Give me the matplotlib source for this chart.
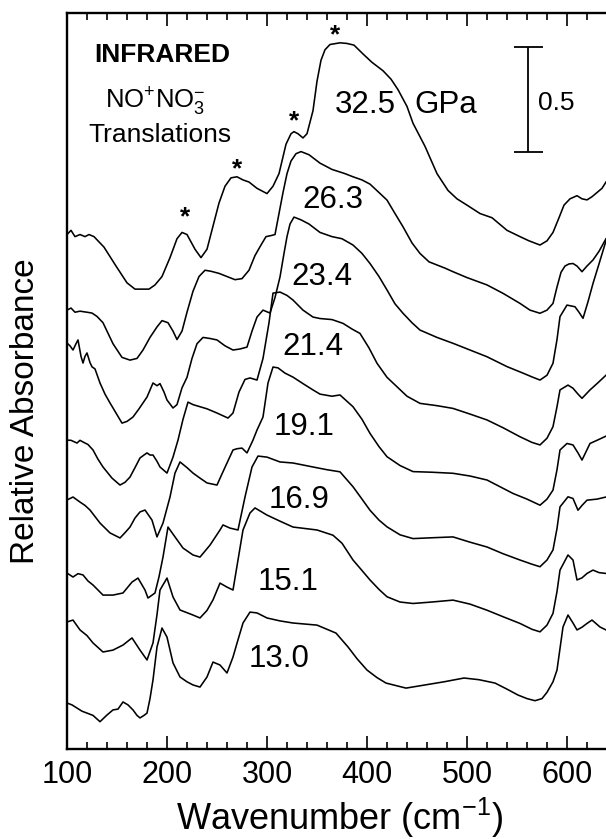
import matplotlib
matplotlib.use("Agg")
import matplotlib.pyplot as plt
from matplotlib.ticker import MultipleLocator

plt.rcParams['font.family'] = ['Liberation Sans', 'DejaVu Sans']
plt.rcParams['mathtext.fontset'] = 'custom'
plt.rcParams['mathtext.rm'] = 'Liberation Sans'
plt.rcParams['mathtext.it'] = 'Liberation Sans:italic'
plt.rcParams['mathtext.bf'] = 'Liberation Sans:bold'
plt.rcParams['mathtext.default'] = 'regular'

# ---------------- data (wavenumber in cm^-1, relative absorbance, offset) ----------------
wn_325 = [100,104,108,113,118,122,127,137,149,160,168,175,182,188,195,203,210,215,220,228,234,240,246,252,258,
          264,270,276,282,290,300,306,312,319,324,327,331,336,340,346,350,354,358,363,373,380,387,396,405,416,
          424,431,440,446,458,470,481,490,500,513,525,540,553,562,573,580,586,592,597,603,610,615,620,625,630,635,639]
ab_325 = [2.45,2.47,2.44,2.45,2.44,2.45,2.44,2.39,2.30,2.22,2.19,2.19,2.19,2.21,2.25,2.34,2.43,2.46,2.45,2.38,2.34,2.38,2.49,2.60,2.68,
          2.72,2.725,2.71,2.70,2.67,2.645,2.68,2.74,2.88,2.93,2.94,2.93,2.91,2.93,3.04,3.18,3.28,3.33,3.355,3.363,3.36,3.352,3.31,3.27,3.23,
          3.19,3.14,3.06,2.98,2.87,2.74,2.66,2.62,2.59,2.55,2.53,2.47,2.44,2.42,2.40,2.42,2.46,2.53,2.59,2.62,2.635,2.62,2.615,2.63,2.65,2.67,2.70]

wn_263 = [100,104,108,113,120,125,130,136,146,155,163,170,176,183,190,195,201,206,210,215,220,226,232,238,244,252,260,268,275,282,
          288,294,299,304,308,312,316,320,324,329,334,342,353,365,378,386,395,403,412,420,428,436,445,453,462,470,478,486,500,520,
          536,553,563,573,580,586,590,594,598,602,606,610,615,620,626,632,639]
ab_263 = [2.09,2.10,2.08,2.085,2.08,2.076,2.06,2.03,1.93,1.865,1.852,1.86,1.90,1.96,2.01,2.04,2.03,1.99,1.95,1.99,2.08,2.18,2.25,2.28,2.275,2.265,2.25,2.235,2.24,2.28,
          2.35,2.40,2.44,2.445,2.45,2.55,2.65,2.74,2.80,2.835,2.845,2.83,2.79,2.76,2.74,2.725,2.71,2.69,2.65,2.614,2.55,2.487,2.41,2.36,2.32,2.305,2.29,2.273,2.245,2.21,
          2.17,2.122,2.09,2.075,2.09,2.122,2.20,2.27,2.30,2.31,2.312,2.30,2.273,2.30,2.329,2.37,2.43]

wn_234 = [100,103,106,109,111,114,116,118,120,123,125,128,133,138,143,149,155,160,166,172,180,186,190,193,197,200,206,210,215,220,
          225,230,236,243,250,258,266,273,280,285,290,296,303,308,313,317,320,323,327,334,342,353,365,375,386,395,403,412,420,428,
          436,445,453,470,486,503,520,540,556,566,573,580,586,590,593,600,608,612,616,621,626,632,639]
ab_234 = [1.933,1.92,1.90,1.93,1.948,1.87,1.838,1.87,1.886,1.84,1.82,1.81,1.743,1.69,1.648,1.60,1.552,1.56,1.581,1.62,1.676,1.743,1.73,1.74,1.70,1.662,1.624,1.64,1.72,1.77,
          1.86,1.93,1.96,1.955,1.948,1.92,1.90,1.905,1.914,1.99,2.057,2.09,2.076,2.15,2.248,2.36,2.44,2.50,2.533,2.52,2.50,2.46,2.44,2.43,2.40,2.36,2.312,2.25,2.186,2.12,
          2.075,2.03,1.995,1.96,1.932,1.90,1.868,1.821,1.79,1.77,1.757,1.78,1.837,1.95,2.059,2.114,2.106,2.08,2.051,2.13,2.217,2.31,2.42]

wn_214 = [100,104,110,113,116,121,126,131,136,145,153,158,163,168,173,177,180,183,186,190,193,200,206,211,216,221,226,233,240,250,
          261,266,272,278,283,290,296,302,306,313,320,326,336,346,353,365,376,385,393,402,410,420,430,440,453,470,486,503,520,536,
          553,565,573,580,586,590,593,601,606,611,615,619,623,630,639]
ab_214 = [1.471,1.47,1.457,1.47,1.462,1.45,1.424,1.38,1.343,1.29,1.257,1.27,1.295,1.34,1.386,1.40,1.41,1.40,1.40,1.37,1.343,1.314,1.39,1.471,1.57,1.652,1.64,1.63,1.62,1.60,
          1.576,1.60,1.70,1.76,1.767,1.757,1.86,2.03,2.171,2.176,2.16,2.138,2.09,2.057,2.05,2.045,2.027,2.00,1.979,1.91,1.837,1.77,1.725,1.68,1.646,1.635,1.622,1.595,1.567,1.53,
          1.487,1.46,1.448,1.48,1.535,1.63,1.710,1.733,1.718,1.69,1.670,1.69,1.710,1.74,1.78]

wn_191 = [100,106,113,118,123,133,143,153,158,163,168,173,178,185,190,196,203,208,213,220,226,233,240,250,255,260,266,270,275,280,
          286,290,296,301,306,311,318,326,336,346,353,365,373,386,395,403,412,420,433,446,465,486,503,520,546,560,573,580,586,590,
          593,600,606,611,615,623,630,639]
ab_191 = [1.186,1.20,1.176,1.16,1.138,1.076,1.029,1.005,1.03,1.057,1.10,1.129,1.138,1.09,1.01,1.076,1.20,1.314,1.367,1.34,1.314,1.29,1.267,1.257,1.31,1.362,1.424,1.43,1.433,1.41,
          1.471,1.519,1.581,1.743,1.819,1.815,1.79,1.771,1.74,1.71,1.69,1.68,1.686,1.630,1.57,1.503,1.44,1.392,1.35,1.321,1.318,1.313,1.30,1.281,1.217,1.19,1.161,1.19,1.233,1.33,
          1.424,1.455,1.448,1.41,1.376,1.455,1.47,1.49]

wn_169 = [100,106,111,116,121,126,136,146,156,165,171,178,181,188,192,196,201,208,216,226,233,243,253,256,263,271,278,285,291,300,
          313,326,346,360,373,386,395,403,412,420,433,446,465,486,503,520,536,553,565,573,580,586,590,593,601,606,611,615,620,630,639]
ab_169 = [0.838,0.819,0.835,0.829,0.80,0.781,0.733,0.733,0.743,0.795,0.814,0.757,0.719,0.743,0.82,0.914,1.057,1.01,0.957,0.924,0.914,0.971,1.043,1.067,1.052,1.043,1.2,1.343,1.395,1.39,
          1.367,1.362,1.343,1.33,1.32,1.249,1.19,1.137,1.09,1.058,1.02,1.002,1.006,1.010,0.985,0.962,0.93,0.900,0.88,0.868,0.90,0.948,1.05,1.153,1.201,1.193,1.137,1.16,1.185,1.19,1.20]

wn_151 = [100,106,113,120,126,136,146,156,165,173,180,186,190,193,200,206,213,226,233,240,246,253,260,266,271,276,283,288,300,313,
          326,350,366,375,386,395,403,412,420,433,446,465,486,503,520,536,553,565,573,580,586,590,593,601,606,610,615,620,626,632,639]
ab_151 = [0.605,0.614,0.567,0.54,0.505,0.462,0.471,0.495,0.529,0.471,0.424,0.505,0.64,0.757,0.814,0.724,0.662,0.638,0.624,0.66,0.71,0.79,0.771,0.757,0.90,1.043,1.124,1.148,1.114,1.085,
          1.057,1.043,1.018,0.98,0.90,0.85,0.805,0.76,0.725,0.70,0.693,0.70,0.709,0.69,0.661,0.63,0.598,0.57,0.558,0.59,0.646,0.75,0.852,0.924,0.90,0.805,0.815,0.836,0.852,0.84,0.836]

wn_130 = [100,105,110,115,120,126,133,140,146,151,156,161,166,170,173,177,180,183,186,190,195,200,206,213,220,226,233,240,246,253,
          260,266,271,276,283,290,300,313,326,350,369,381,390,400,410,419,439,458,477,497,512,528,540,551,560,568,575,580,586,590,
          596,601,606,610,615,620,625,633,639]
ab_130 = [0.219,0.21,0.195,0.18,0.171,0.16,0.13,0.162,0.186,0.19,0.224,0.21,0.186,0.16,0.148,0.16,0.171,0.24,0.329,0.486,0.576,0.533,0.41,0.343,0.32,0.305,0.295,0.343,0.414,0.40,
          0.362,0.438,0.52,0.60,0.652,0.648,0.624,0.61,0.60,0.59,0.552,0.486,0.43,0.376,0.34,0.314,0.29,0.305,0.32,0.338,0.33,0.314,0.285,0.257,0.24,0.23,0.24,0.27,0.32,0.376,
          0.581,0.638,0.60,0.567,0.58,0.598,0.614,0.581,0.567]

pressures = ['32.5', '26.3', '23.4', '21.4', '19.1', '16.9', '15.1', '13.0']
spectra = [(wn_325, ab_325), (wn_263, ab_263), (wn_234, ab_234), (wn_214, ab_214),
           (wn_191, ab_191), (wn_169, ab_169), (wn_151, ab_151), (wn_130, ab_130)]

# starred translational modes of the 32.5 GPa spectrum (wavenumber, absorbance of marker)
star_wn = [218, 270, 327, 368]
star_ab = [2.53, 2.76, 2.99, 3.40]

scale_bar_value = 0.5

# ---------------- layout ----------------
label_x = [398, 366, 355, 346, 337, 332, 321, 312]
label_y = [3.029, 2.576, 2.210, 1.876, 1.495, 1.148, 0.757, 0.390]

fig = plt.figure(figsize=(6.06, 8.39), dpi=100)
ax = fig.add_axes([67/606, 90/839, 539/606, 736/839])

for wn, ab in spectra:
    ax.plot(wn, ab, color='black', lw=1.15, solid_joinstyle='round')

for p, lx, ly in zip(pressures, label_x, label_y):
    ax.text(lx, ly, p, fontsize=22.5, ha='center', va='baseline')
ax.text(479, label_y[0], 'GPa', fontsize=22.5, ha='center', va='baseline')

for sx, sy in zip(star_wn, star_ab):
    ax.text(sx, sy, '*', fontsize=19, fontweight='bold', ha='center', va='center')

ax.text(195, 3.271, 'INFRARED', fontsize=19, fontweight='bold', ha='center', va='baseline')
ax.text(188, 3.052, r'NO$^{+}$NO$_{3}^{-}$', fontsize=18.5, ha='center', va='baseline')
ax.text(193, 2.89, 'Translations', fontsize=19, ha='center', va='baseline')

# scale bar
bar_x, bar_bottom = 561, 2.843
ax.vlines(bar_x, bar_bottom, bar_bottom + scale_bar_value, color='black', lw=1.3)
ax.hlines([bar_bottom, bar_bottom + scale_bar_value], bar_x - 14, bar_x + 15, color='black', lw=1.3)
ax.text(bar_x + 10, 3.043, f'{scale_bar_value}', fontsize=19, ha='left', va='baseline')

ax.set_xlim(100, 639)
ax.set_ylim(0, 3.505)
ax.set_yticks([])
ax.xaxis.set_major_locator(MultipleLocator(100))
ax.xaxis.set_minor_locator(MultipleLocator(20))
ax.tick_params(axis='x', which='both', direction='in', top=True, bottom=True, labelsize=22, pad=8)
ax.tick_params(axis='x', which='major', length=9.5, width=1.2)
ax.tick_params(axis='x', which='minor', length=5, width=1.2)
ax.spines['right'].set_visible(False)
for s in ['left', 'bottom', 'top']:
    ax.spines[s].set_linewidth(1.7)

fig.text(340/606, 1 - 818/839, r'Wavenumber (cm$^{-1}$)', fontsize=26, ha='center', va='center')
fig.text(26/606, 1 - 411/839, 'Relative Absorbance', fontsize=24, ha='center', va='center', rotation=90)

fig.savefig('out.png', dpi=100)
